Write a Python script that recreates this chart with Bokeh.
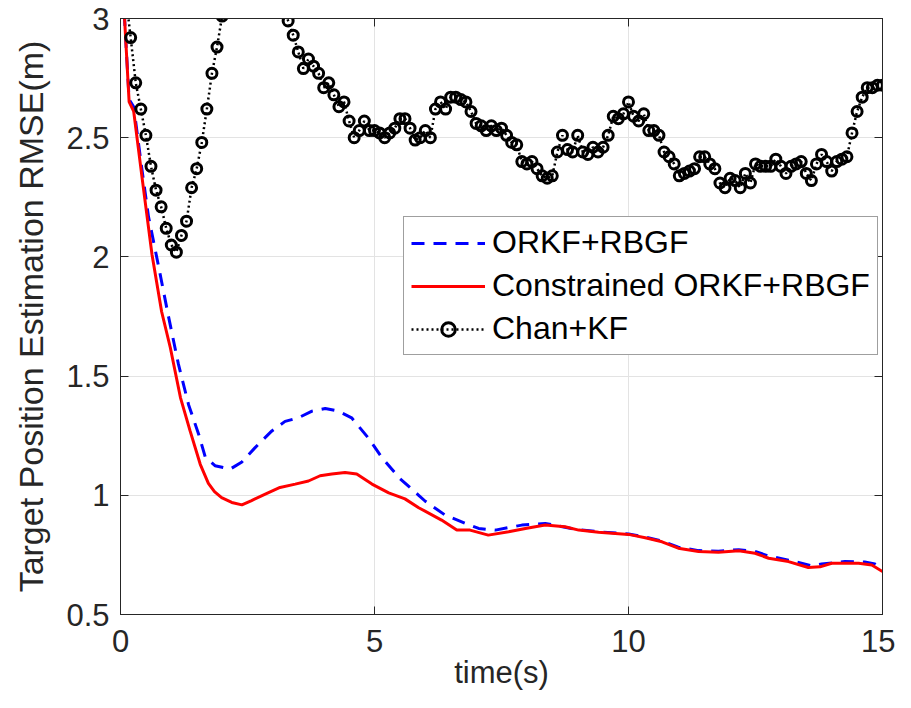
from bokeh.plotting import figure
from bokeh.models import (LinearAxis, FixedTicker, CustomJSTickFormatter, Legend,
                          LegendItem, Range1d)
from bokeh.embed import file_html
from bokeh.resources import INLINE

# ---------------- data ----------------
orkf_t = [0.0, 0.08, 0.17, 0.26, 0.42, 0.55, 0.75, 0.94, 1.14, 1.34, 1.54, 1.67, 1.86,
          2.16, 2.39, 2.65, 2.98, 3.24, 3.50, 3.77, 4.03, 4.29, 4.55, 4.88, 5.14, 5.50,
          5.87, 6.0, 6.39, 6.79, 7.05, 7.38, 7.90, 8.36, 8.95, 9.41, 10.0, 10.33, 10.66,
          10.98, 11.38, 11.77, 12.17, 12.49, 12.76, 13.15, 13.6, 13.8, 14.26, 14.65,
          14.85, 15.0]
orkf_v = [3.3, 3.0, 2.66, 2.63, 2.37, 2.17, 1.96, 1.755, 1.55, 1.38, 1.255, 1.16, 1.124,
          1.11, 1.14, 1.20, 1.27, 1.31, 1.325, 1.353, 1.364, 1.353, 1.325, 1.24, 1.16, 1.07,
          1.0, 0.975, 0.917, 0.882, 0.861, 0.854, 0.875, 0.882, 0.858, 0.847, 0.838, 0.825,
          0.808, 0.782, 0.768, 0.765, 0.772, 0.765, 0.745, 0.728, 0.705, 0.712, 0.722,
          0.72, 0.712, 0.69]

con_t = [0.0, 0.08, 0.17, 0.26, 0.42, 0.62, 0.81, 0.98, 1.18, 1.37, 1.57, 1.73, 1.85,
         1.99, 2.19, 2.39, 2.58, 2.85, 3.14, 3.44, 3.70, 3.93, 4.16, 4.42, 4.65, 4.95,
         5.28, 5.60, 5.87, 6.32, 6.62, 6.88, 7.24, 7.64, 7.97, 8.36, 8.75, 9.02, 9.41,
         10.0, 10.33, 10.66, 10.98, 11.38, 11.77, 12.17, 12.49, 12.76, 13.15, 13.54,
         13.77, 14.0, 14.53, 14.79, 15.0]
con_v = [3.3, 3.0, 2.65, 2.61, 2.34, 2.01, 1.77, 1.62, 1.41, 1.27, 1.13, 1.05, 1.015,
         0.99, 0.97, 0.96, 0.978, 1.005, 1.033, 1.047, 1.06, 1.082, 1.089, 1.096, 1.089,
         1.047, 1.01, 0.985, 0.948, 0.896, 0.854, 0.854, 0.833, 0.847, 0.861, 0.875,
         0.868, 0.854, 0.845, 0.836, 0.822, 0.805, 0.778, 0.764, 0.761, 0.767, 0.757,
         0.736, 0.722, 0.697, 0.70, 0.715, 0.715, 0.708, 0.68]

chan_v = [3.10, 2.92, 2.73, 2.62, 2.51, 2.38, 2.28, 2.21, 2.12, 2.05,
          2.02, 2.09, 2.15, 2.29, 2.37, 2.48, 2.62, 2.77, 2.88, 3.01,
          3.13, 3.24, 3.33, 3.40, 3.45, 3.47, 3.46, 3.40, 3.32, 3.22,
          3.13, 3.05, 2.99, 2.93, 2.86, 2.79, 2.83, 2.80, 2.77, 2.71,
          2.73, 2.68, 2.63, 2.65, 2.57, 2.50, 2.53, 2.57, 2.53, 2.53,
          2.52, 2.50, 2.52, 2.54, 2.58, 2.58, 2.54, 2.49, 2.50, 2.53,
          2.50, 2.62, 2.65, 2.62, 2.67, 2.67, 2.66, 2.65, 2.61, 2.56,
          2.55, 2.53, 2.55, 2.53, 2.54, 2.51, 2.48, 2.47, 2.40, 2.39,
          2.40, 2.37, 2.34, 2.33, 2.34, 2.44, 2.51, 2.45, 2.44, 2.51,
          2.44, 2.43, 2.46, 2.44, 2.46, 2.51, 2.59, 2.58, 2.60, 2.65,
          2.59, 2.57, 2.60, 2.53, 2.53, 2.51, 2.44, 2.42, 2.39, 2.34,
          2.35, 2.36, 2.37, 2.42, 2.42, 2.39, 2.37, 2.31, 2.29, 2.33,
          2.32, 2.29, 2.35, 2.31, 2.39, 2.38, 2.38, 2.38, 2.41, 2.38,
          2.35, 2.38, 2.39, 2.40, 2.35, 2.32, 2.39, 2.43, 2.40, 2.36,
          2.40, 2.41, 2.42, 2.52, 2.61, 2.67, 2.71, 2.71, 2.72, 2.72]
chan_t = [round(0.1 * k, 1) for k in range(1, len(chan_v) + 1)]

x_ticks = [0, 5, 10, 15]
y_ticks = [0.5, 1, 1.5, 2, 2.5, 3]

FONT = "Liberation Sans"
TXT = "#262626"

p = figure(width=895, height=692, x_range=Range1d(0, 15), y_range=Range1d(0.5, 3),
           output_backend="svg", toolbar_location=None,
           min_border_left=120, min_border_right=13, min_border_top=18,
           min_border_bottom=74)

fmt = CustomJSTickFormatter(code="return tick.toString();")

for ax, ticks in ((p.xaxis[0], x_ticks), (p.yaxis[0], y_ticks)):
    ax.ticker = FixedTicker(ticks=ticks)
    ax.formatter = fmt
    ax.major_tick_in = 8
    ax.major_tick_out = 0
    ax.minor_tick_in = 0
    ax.minor_tick_out = 0
    ax.axis_line_color = TXT
    ax.major_tick_line_color = TXT
    ax.major_label_text_font = FONT
    ax.major_label_text_font_size = "31px"
    ax.major_label_text_color = TXT
    ax.axis_label_text_font = FONT
    ax.axis_label_text_font_style = "normal"
    ax.axis_label_text_color = TXT

p.xaxis[0].axis_label = "time(s)"
p.xaxis[0].axis_label_text_font_size = "31px"
p.xaxis[0].major_label_standoff = 15
p.xaxis[0].axis_label_standoff = 0
p.yaxis[0].axis_label = "Target Position Estimation RMSE(m)"
p.yaxis[0].axis_label_text_font_size = "34px"
p.yaxis[0].major_label_standoff = 11
p.yaxis[0].axis_label_standoff = 13

# box axes on the right and top: inward ticks, no labels
for loc, ticks in (("right", y_ticks), ("above", x_ticks)):
    ax = LinearAxis(ticker=FixedTicker(ticks=ticks), major_label_text_font_size="0px",
                    major_tick_in=8, major_tick_out=0, minor_tick_in=0, minor_tick_out=0,
                    axis_line_color=TXT, major_tick_line_color=TXT,
                    major_label_standoff=0)
    p.add_layout(ax, loc)

p.xgrid.ticker = FixedTicker(ticks=x_ticks)
p.ygrid.ticker = FixedTicker(ticks=y_ticks)
p.xgrid.grid_line_color = "#e3e3e3"
p.ygrid.grid_line_color = "#e3e3e3"
p.outline_line_color = TXT
p.background_fill_color = "white"
p.border_fill_color = "white"

r_blue = p.line(orkf_t, orkf_v, line_color="#0000ff", line_width=3, line_dash="13 9")
r_red = p.line(con_t, con_v, line_color="#ff0000", line_width=3)
r_chan_l = p.line(chan_t, chan_v, line_color="black", line_width=2.5, line_dash="2 3")
r_chan_m = p.scatter(chan_t, chan_v, marker="circle", size=10, line_color="black",
                     line_width=3, fill_color=None)

legend = Legend(items=[
    LegendItem(label="ORKF+RBGF", renderers=[r_blue]),
    LegendItem(label="Constrained ORKF+RBGF", renderers=[r_red]),
    LegendItem(label="Chan+KF", renderers=[r_chan_l, r_chan_m]),
], location=(283, 259))
legend.label_text_font = FONT
legend.label_text_font_size = "32px"
legend.label_text_color = "black"
legend.glyph_width = 74
legend.glyph_height = 34
legend.label_height = 34
legend.label_standoff = 7
legend.spacing = 6
legend.padding = 7
legend.margin = 0
legend.border_line_color = "#404040"
legend.border_line_width = 1
legend.background_fill_color = "white"
legend.background_fill_alpha = 1
p.add_layout(legend)

open("out.html", "w").write(file_html(p, INLINE))
